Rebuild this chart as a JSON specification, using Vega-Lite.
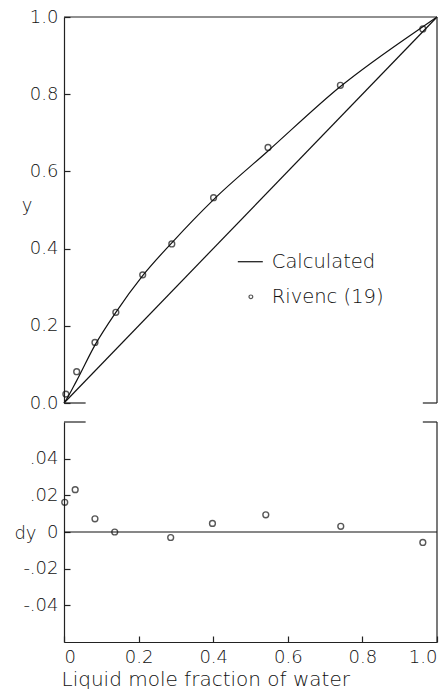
{
  "$schema": "https://vega.github.io/schema/vega-lite/v6.json",
  "padding": {"left": 13, "top": 8, "right": 5, "bottom": 2},
  "background": "white",
  "config": {
    "view": {"stroke": null},
    "axis": {
      "labelFont": "DejaVu Sans", "labelFontWeight": 200, "labelFontSize": 18, "labelColor": "#111",
      "titleFont": "DejaVu Sans", "titleFontWeight": 200, "titleFontSize": 18, "titleColor": "#111",
      "domainColor": "#222", "domainWidth": 1.2, "tickColor": "#222", "tickWidth": 1.2,
      "grid": false
    }
  },
  "datasets": {
    "curve": [
      {"x": 0, "y": 0, "s": "calc"},
      {"x": 0.005, "y": 0.007, "s": "calc"},
      {"x": 0.034, "y": 0.058, "s": "calc"},
      {"x": 0.083, "y": 0.15, "s": "calc"},
      {"x": 0.139, "y": 0.235, "s": "calc"},
      {"x": 0.211, "y": 0.33, "s": "calc"},
      {"x": 0.289, "y": 0.415, "s": "calc"},
      {"x": 0.401, "y": 0.527, "s": "calc"},
      {"x": 0.547, "y": 0.653, "s": "calc"},
      {"x": 0.741, "y": 0.82, "s": "calc"},
      {"x": 0.962, "y": 0.975, "s": "calc"},
      {"x": 1, "y": 1, "s": "calc"},
      {"x": 0, "y": 0, "s": "diag"},
      {"x": 1, "y": 1, "s": "diag"}
    ],
    "exp": [
      {"x": 0.005, "y": 0.023},
      {"x": 0.034, "y": 0.081},
      {"x": 0.083, "y": 0.157},
      {"x": 0.139, "y": 0.235},
      {"x": 0.211, "y": 0.332},
      {"x": 0.289, "y": 0.412},
      {"x": 0.401, "y": 0.532},
      {"x": 0.547, "y": 0.662},
      {"x": 0.741, "y": 0.823},
      {"x": 0.962, "y": 0.969}
    ],
    "dev": [
      {"x": 0.002, "dy": 0.0162},
      {"x": 0.03, "dy": 0.0231},
      {"x": 0.083, "dy": 0.0072},
      {"x": 0.136, "dy": 0.0},
      {"x": 0.286, "dy": -0.003},
      {"x": 0.398, "dy": 0.0047},
      {"x": 0.541, "dy": 0.0094},
      {"x": 0.742, "dy": 0.0031},
      {"x": 0.962, "dy": -0.0057}
    ]
  },
  "spacing": 9,
  "vconcat": [
    {
      "width": 373,
      "height": 386,
      "layer": [
        {
          "data": {"name": "curve"},
          "mark": {"type": "line", "color": "#111", "strokeWidth": 1.2, "interpolate": "monotone"},
          "encoding": {
            "x": {"field": "x", "type": "quantitative", "scale": {"domain": [0, 1]}, "axis": null},
            "y": {
              "field": "y", "type": "quantitative",
              "scale": {"domain": [0, 1]},
              "axis": {
                "values": [0, 0.2, 0.4, 0.6, 0.8, 1.0],
                "format": ".1f",
                "tickSize": -6,
                "labelPadding": 12,
                "title": "y",
                "titleAngle": 0,
                "titleAlign": "right",
                "titleBaseline": "middle",
                "titleX": -32,
                "titleY": 188
              }
            },
            "detail": {"field": "s", "type": "nominal"}
          }
        },
        {
          "data": {"name": "exp"},
          "mark": {"type": "point", "shape": "circle", "filled": false, "color": "#111", "size": 34, "strokeWidth": 1.4},
          "encoding": {
            "x": {"field": "x", "type": "quantitative"},
            "y": {"field": "y", "type": "quantitative"}
          }
        },
        {
          "data": {"values": [{"k": 1}]},
          "mark": {"type": "rule", "color": "#222", "strokeWidth": 1.2},
          "encoding": {
            "x": {"datum": 0, "type": "quantitative"},
            "x2": {"datum": 1},
            "y": {"datum": 1, "type": "quantitative"}
          }
        },
        {
          "data": {"values": [{"k": 1}]},
          "mark": {"type": "rule", "color": "#222", "strokeWidth": 1.2},
          "encoding": {
            "x": {"datum": 1, "type": "quantitative"},
            "y": {"datum": 0, "type": "quantitative"},
            "y2": {"datum": 1}
          }
        },
        {
          "data": {"values": [{"k": 1}]},
          "mark": {"type": "rule", "color": "#222", "strokeWidth": 1.2},
          "encoding": {
            "x": {"datum": 0, "type": "quantitative"},
            "x2": {"datum": 0.058},
            "y": {"datum": 0, "type": "quantitative"}
          }
        },
        {
          "data": {"values": [{"k": 1}]},
          "mark": {"type": "rule", "color": "#222", "strokeWidth": 1.2},
          "encoding": {
            "x": {"datum": 0.962, "type": "quantitative"},
            "x2": {"datum": 1},
            "y": {"datum": 0, "type": "quantitative"}
          }
        },
        {
          "data": {"values": [{"k": 1}]},
          "mark": {"type": "rule", "color": "#111", "strokeWidth": 1.2},
          "encoding": {
            "x": {"datum": 0.466, "type": "quantitative"},
            "x2": {"datum": 0.533},
            "y": {"datum": 0.366, "type": "quantitative"}
          }
        },
        {
          "data": {"values": [{"k": 1}]},
          "mark": {"type": "point", "shape": "circle", "filled": false, "color": "#111", "size": 14, "strokeWidth": 1.2},
          "encoding": {
            "x": {"datum": 0.501, "type": "quantitative"},
            "y": {"datum": 0.275, "type": "quantitative"}
          }
        },
        {
          "data": {"values": [{"k": 1}]},
          "mark": {"type": "text", "align": "left", "baseline": "middle", "font": "DejaVu Sans", "fontWeight": 200, "fontSize": 19.5, "color": "#111"},
          "encoding": {
            "x": {"datum": 0.557, "type": "quantitative"},
            "y": {"datum": 0.366, "type": "quantitative"},
            "text": {"value": "Calculated"}
          }
        },
        {
          "data": {"values": [{"k": 1}]},
          "mark": {"type": "text", "align": "left", "baseline": "middle", "font": "DejaVu Sans", "fontWeight": 200, "fontSize": 19.5, "color": "#111"},
          "encoding": {
            "x": {"datum": 0.557, "type": "quantitative"},
            "y": {"datum": 0.275, "type": "quantitative"},
            "text": {"value": "Rivenc (19)"}
          }
        }
      ]
    },
    {
      "width": 373,
      "height": 220,
      "layer": [
        {
          "data": {"name": "dev"},
          "mark": {"type": "point", "shape": "circle", "filled": false, "color": "#111", "size": 34, "strokeWidth": 1.4},
          "encoding": {
            "x": {
              "field": "x", "type": "quantitative",
              "scale": {"domain": [0, 1]},
              "axis": {
                "values": [0, 0.2, 0.4, 0.6, 0.8, 1.0],
                "labelExpr": "datum.value == 0 ? '0' : format(datum.value, '.1f')",
                "tickSize": -6,
                "labelPadding": 12,
                "title": "Liquid mole fraction of water",
                "titleFontSize": 20,
                "titlePadding": 3,
                "titleAnchor": "start",
                "titleAlign": "left",
                "titleX": -3
              }
            },
            "y": {
              "field": "dy", "type": "quantitative",
              "scale": {"domain": [-0.06, 0.06]},
              "axis": {
                "values": [-0.04, -0.02, 0, 0.02, 0.04],
                "labelExpr": "datum.value > 0.001 ? '.0' + round(datum.value * 100) : (datum.value < -0.001 ? '-.0' + round(-datum.value * 100) : '0')",
                "tickSize": -6,
                "labelPadding": 12,
                "title": "dy",
                "titleAngle": 0,
                "titleAlign": "right",
                "titleBaseline": "middle",
                "titleX": -28,
                "titleY": 111
              }
            }
          }
        },
        {
          "data": {"values": [{"k": 1}]},
          "mark": {"type": "rule", "color": "#111", "strokeWidth": 1.2},
          "encoding": {
            "x": {"datum": 0, "type": "quantitative"},
            "x2": {"datum": 1},
            "y": {"datum": 0, "type": "quantitative"}
          }
        },
        {
          "data": {"values": [{"k": 1}]},
          "mark": {"type": "rule", "color": "#222", "strokeWidth": 1.2},
          "encoding": {
            "x": {"datum": 1, "type": "quantitative"},
            "y": {"datum": -0.06, "type": "quantitative"},
            "y2": {"datum": 0.06}
          }
        },
        {
          "data": {"values": [{"k": 1}]},
          "mark": {"type": "rule", "color": "#222", "strokeWidth": 1.2},
          "encoding": {
            "x": {"datum": 0, "type": "quantitative"},
            "x2": {"datum": 0.058},
            "y": {"datum": 0.06, "type": "quantitative"}
          }
        },
        {
          "data": {"values": [{"k": 1}]},
          "mark": {"type": "rule", "color": "#222", "strokeWidth": 1.2},
          "encoding": {
            "x": {"datum": 0.962, "type": "quantitative"},
            "x2": {"datum": 1},
            "y": {"datum": 0.06, "type": "quantitative"}
          }
        }
      ]
    }
  ]
}
